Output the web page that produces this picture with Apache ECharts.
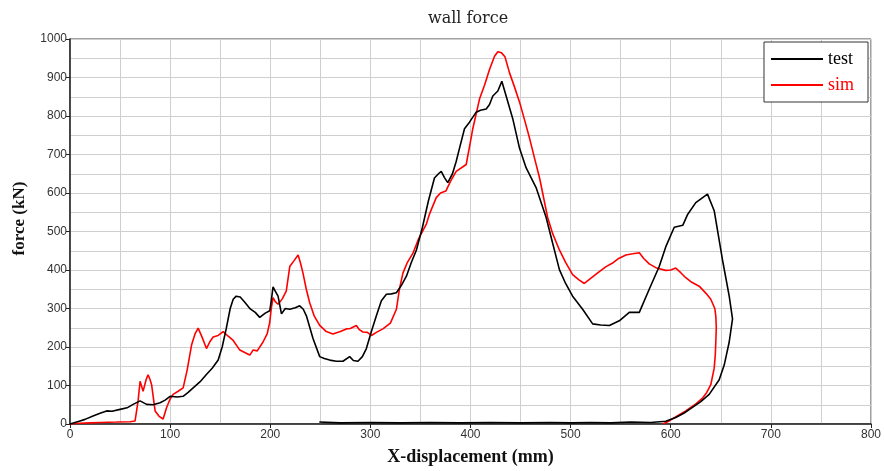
<!DOCTYPE html>
<html>
<head>
<meta charset="utf-8">
<script src="https://cdn.jsdelivr.net/npm/echarts@6/dist/echarts.min.js"></script>
<style>
  html, body { margin: 0; padding: 0; background: #fff; }
  #chart { width: 884px; height: 471px; }
</style>
</head>
<body>
<div id="chart"></div>
<script>
// test curve (displacement mm, force kN)
const testX = [0, 5, 10, 15, 23, 30, 36.6, 42, 50, 57, 63, 70, 76.5, 83, 90, 95, 100, 107, 113, 118, 123, 130, 136, 142, 148, 152, 156, 160, 163, 166, 170, 175, 180, 185, 189.5, 195, 199.5, 201, 202.8, 205, 207.8, 211.2, 215, 219.5, 225, 229.4, 233, 236.1, 242.7, 249.4, 254, 259.4, 266, 272.6, 279.3, 283, 287.6, 292, 296, 301, 306, 311, 316, 321, 326, 331, 336, 341, 346, 352, 358, 364, 368, 370.8, 374, 377.3, 382, 385.7, 389, 394, 399, 405.7, 410, 415.7, 419, 422.3, 427.3, 431.3, 435.6, 442.2, 449, 455.6, 465.5, 475.5, 482, 488.8, 495, 502, 512, 522, 530, 538.7, 548.6, 558.6, 568.6, 578.5, 588.5, 595, 603.5, 612, 617, 625, 636.7, 643.4, 651.7, 658.4, 661.7, 658.4, 653.4, 648.4, 638.4, 630, 621.7, 613, 605, 595, 580, 560, 540, 520, 500, 480, 450, 420, 390, 360, 330, 300, 270, 249];
const testY = [0, 4, 8, 12, 21, 28, 34, 33, 38, 42, 51, 60, 51, 50, 55, 62, 72, 70, 72, 82, 94, 110, 128, 145, 166, 200, 247, 300, 324, 332, 330, 315, 299, 290, 277, 288, 294, 320, 356, 345, 332, 286, 300, 298, 302, 307, 298, 281, 222, 175, 170, 166, 163, 163, 175, 165, 163, 175, 196, 240, 281, 320, 337, 338, 341, 360, 384, 420, 452, 511, 580, 639, 650, 656, 640, 627, 650, 682, 716, 767, 784, 810, 815, 818, 830, 852, 865, 890, 852, 793, 716, 665, 614, 537, 470, 401, 365, 332, 298, 260, 257, 256, 268, 290, 290, 350, 409, 460, 511, 516, 545, 575, 597, 554, 426, 332, 273, 213, 153, 115, 77, 58, 43, 28, 17, 7, 4, 5, 3, 4, 3, 4, 3, 4, 3, 4, 3, 4, 3, 5];

// sim curve
const simX = [0, 10, 20, 30, 46.6, 60, 65, 68, 70, 73, 76, 78, 80, 81.5, 85, 89, 93, 96.5, 100, 103, 108, 113, 117, 121.4, 125, 128, 132, 136.3, 140, 143, 148, 153, 158, 163, 169.6, 175, 179.6, 182.8, 187, 192.8, 197, 199.5, 201, 202.8, 205, 207.8, 212, 216, 219.5, 224, 227.8, 230, 232.7, 236, 239.4, 244, 249.4, 256, 262.6, 270, 276, 280, 286, 289, 292.6, 297, 301, 306, 312.5, 320, 326, 329, 332.5, 337, 342.4, 348, 356, 359, 365.8, 370, 375.4, 380, 385.7, 395.7, 399, 402.3, 409, 414, 419, 424, 427.3, 431, 434.4, 439, 444, 449, 454, 459, 464, 469, 477, 482, 488.8, 495, 502, 508, 513.7, 520, 528.7, 535, 541.9, 548, 555.2, 562, 568.6, 573, 578.5, 586, 595, 600, 605, 610, 615, 621, 628.4, 635, 640, 644, 645, 645.5, 645, 644.5, 643.4, 640, 636, 632, 624, 615, 606, 598.5, 592];
const simY = [0, 2, 3, 4, 5, 6, 8, 60, 111, 85, 115, 128, 115, 102, 34, 20, 13, 43, 65, 77, 85, 94, 140, 205, 235, 249, 225, 196, 215, 226, 230, 240, 228, 217, 192, 185, 179, 192, 190, 213, 235, 264, 300, 328, 318, 311, 325, 345, 409, 425, 439, 420, 392, 350, 315, 280, 256, 240, 234, 240, 247, 248, 256, 245, 239, 238, 230, 238, 247, 262, 298, 350, 392, 420, 443, 480, 520, 545, 588, 600, 605, 630, 656, 674, 720, 767, 844, 880, 921, 955, 967, 964, 954, 912, 875, 836, 790, 742, 690, 639, 537, 495, 452, 420, 388, 375, 365, 378, 396, 408, 418, 430, 439, 442, 445, 430, 416, 405, 399, 400, 405, 393, 380, 368, 358, 340, 324, 300, 281, 250, 213, 180, 145, 102, 82, 68, 50, 34, 20, 8, 0];

const xTicks = { min: 0, max: 800, interval: 100 };
const yTicks = { min: 0, max: 1000, interval: 100 };

const pairs = (xs, ys) => xs.map((x, i) => [x, ys[i]]);

const chart = echarts.init(document.getElementById('chart'), null, { renderer: 'canvas' });

const tickLabel = {
  color: '#333',
  fontFamily: 'Liberation Sans',
  fontSize: 12,
  formatter: v => String(v)
};
const splitStyle = { color: '#cfcfcf', width: 1 };

chart.setOption({
  animation: false,
  backgroundColor: '#fff',
  title: {
    text: 'wall force',
    left: 423,
    top: 6,
    textStyle: { fontFamily: 'DejaVu Serif', fontWeight: 'normal', fontSize: 16, color: '#222' }
  },
  legend: {
    orient: 'vertical',
    right: 16,
    top: 42,
    padding: [8, 14, 8, 7],
    itemGap: 8,
    itemWidth: 52,
    itemHeight: 2,
    icon: 'rect',
    backgroundColor: '#fff',
    borderColor: '#333',
    borderWidth: 1,
    textStyle: { fontFamily: 'Liberation Serif', fontSize: 18 },
    data: [
      { name: 'test', textStyle: { color: '#000' } },
      { name: 'sim', textStyle: { color: '#ff0000' } }
    ]
  },
  grid: {
    left: 70,
    right: 12,
    top: 39,
    bottom: 41,
    show: true,
    borderColor: '#444',
    borderWidth: 1
  },
  xAxis: {
    type: 'value',
    ...xTicks,
    name: 'X-displacement (mm)',
    nameLocation: 'middle',
    nameGap: 24,
    nameTextStyle: { fontFamily: 'Liberation Serif', fontWeight: 'bold', fontSize: 18, color: '#111' },
    axisLine: { show: true, lineStyle: { color: '#222', width: 1.5 } },
    axisTick: { show: true, length: 4, lineStyle: { color: '#222' } },
    axisLabel: { ...tickLabel, margin: 5 },
    splitLine: { show: true, lineStyle: splitStyle },
    minorTick: { show: false, splitNumber: 2 },
    minorSplitLine: { show: true, lineStyle: splitStyle }
  },
  yAxis: {
    type: 'value',
    ...yTicks,
    name: 'force (kN)',
    nameLocation: 'middle',
    nameGap: 42,
    nameTextStyle: { fontFamily: 'Liberation Serif', fontWeight: 'bold', fontSize: 17, color: '#111', padding: [0, 0, 0, 26] },
    axisLine: { show: true, lineStyle: { color: '#222', width: 1.5 } },
    axisTick: { show: true, length: 4, lineStyle: { color: '#222' } },
    axisLabel: { ...tickLabel, margin: 3 },
    splitLine: { show: true, lineStyle: splitStyle },
    minorTick: { show: false, splitNumber: 2 },
    minorSplitLine: { show: true, lineStyle: splitStyle }
  },
  series: [
    {
      name: 'test',
      type: 'line',
      data: pairs(testX, testY),
      showSymbol: false,
      color: '#000',
      lineStyle: { color: '#000', width: 1.6 },
      z: 3
    },
    {
      name: 'sim',
      type: 'line',
      data: pairs(simX, simY),
      showSymbol: false,
      color: '#ff0000',
      lineStyle: { color: '#ff0000', width: 1.6 },
      z: 2
    }
  ]
});
</script>
</body>
</html>
